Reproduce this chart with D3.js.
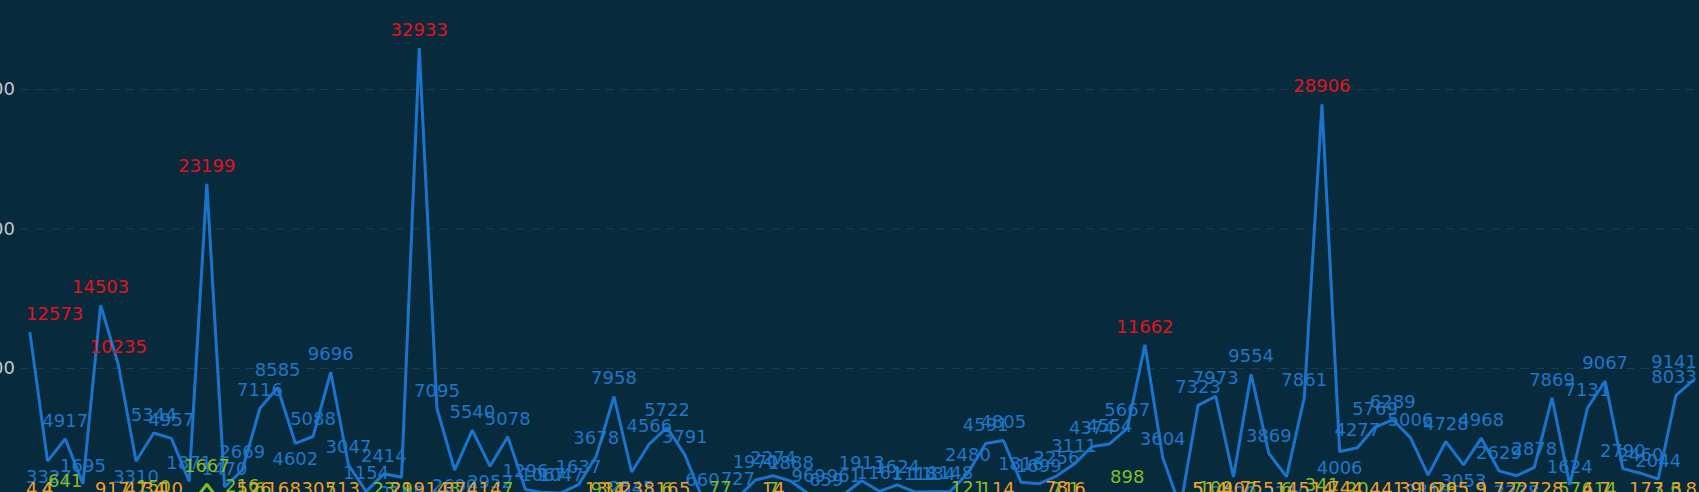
<!DOCTYPE html>
<html>
<head>
<meta charset="utf-8">
<script src="https://cdn.jsdelivr.net/npm/d3@7/dist/d3.min.js"></script>
<style>
  html, body { margin: 0; padding: 0; background: #082a3d; overflow: hidden; }
  svg { display: block; }
  text { font-family: "DejaVu Sans", Verdana, sans-serif; }
</style>
</head>
<body>
<svg id="chart" width="1699" height="492"></svg>
<script>
// ---- data ----
const categories = ["1","2","3","4","5","6","7","8","9","10","11","12","13","14","15","16","17","18","19","20",
  "21","22","23","24","25","26","27","28","29","30","31","32","33","34","35","36","37","38","39","40",
  "41","42","43","44","45","46","47","48","49","50","51","52","53","54","55","56","57","58","59","60",
  "61","62","63","64","65","66","67","68","69","70","71","72","73","74","75","76","77","78","79","80",
  "81","82","83","84","85","86","87","88","89","90","91","92","93","94","95"];

const blueValues = [12573, 3327, 4917, 1695, 14503, 10235, 3310, 5344, 4957, 1871,
  23199, 1470, 2669, 7116, 8585, 4602, 5088, 9696, 3047, 1154,
  2414, 2165, 32933, 7095, 2690, 5540, 2952, 5078, 1296, 1067,
  1047, 1637, 3678, 7958, 2545, 4566, 5722, 3791, 660, 0,
  727, 1970, 2274, 1888, 969, 659, 961, 1913, 1161, 1624,
  1118, 1134, 1148, 2480, 4591, 4805, 1816, 1699, 2256, 3111,
  4374, 4554, 5667, 11662, 3604, 0, 7323, 7973, 2190, 9554,
  3869, 2210, 7861, 28906, 4006, 4277, 5769, 6289, 5006, 2318,
  4728, 3053, 4968, 2629, 2278, 2878, 7869, 1624, 7131, 9067,
  2790, 2460, 2044, 8033, 9141];

const greenValues = [0, 4, 641, 0, 0, 0, 0, 150, 0, 0,
  1667, 0, 216, 6, 0, 0, 0, 7, 0, 0,
  23, 29, 0, 0, 3, 0, 0, 7, 0, 0,
  0, 0, 9, 31, 0, 0, 6, 0, 0, 77,
  0, 0, 7, 0, 0, 0, 0, 0, 0, 0,
  0, 0, 0, 121, 1, 0, 0, 0, 7, 1,
  0, 0, 898, 0, 0, 0, 5, 109, 0, 7,
  0, 6, 0, 341, 0, 20, 0, 0, 0, 0,
  16, 0, 9, 0, 7, 0, 0, 57, 6, 14,
  0, 0, 7, 6, 0];

const orangeValues = [4, 4, 0, 0, 9, 17, 47, 34, 10, 0,
  0, 0, 5, 26, 16, 8, 30, 5, 13, 0,
  0, 21, 9, 14, 37, 4, 14, 0, 0, 0,
  0, 0, 13, 14, 23, 8, 16, 5, 0, 0,
  0, 0, 14, 0, 0, 0, 0, 0, 0, 0,
  0, 0, 0, 0, 0, 14, 0, 0, 78, 16,
  0, 0, 0, 0, 0, 0, 5, 14, 40, 75,
  5, 14, 5, 14, 74, 4, 4, 41, 39, 16,
  29, 5, 9, 7, 22, 7, 28, 0, 4, 7,
  0, 17, 3, 3, 8];

const yTicks = [0, 10000, 20000, 30000];
const highThreshold = 10000;

// ---- layout ----
const W = 1699, H = 492;
const gridLeft = 21;
const step = 17.7;
const svg = d3.select("#chart");
svg.append("rect").attr("width", W).attr("height", H).attr("fill", "#082a3d");

const x = d3.scaleBand()
  .domain(categories)
  .range([gridLeft, gridLeft + step * categories.length])
  .padding(0);
const cx = c => x(c) + x.bandwidth() / 2;

const y = d3.scaleLinear().domain([0, 30000]).range([507.5, 89]);

// grid lines + y axis labels
const yAxis = d3.axisLeft(y).tickValues(yTicks).tickSize(-(W - gridLeft)).tickPadding(6)
  .tickFormat(d3.format("d"));
const gAxis = svg.append("g").attr("transform", `translate(${gridLeft},0)`).call(yAxis);
gAxis.select(".domain").remove();
gAxis.selectAll(".tick line")
  .attr("stroke", "#1f3d51")
  .attr("stroke-width", 1)
  .attr("stroke-dasharray", "8,7");
gAxis.selectAll(".tick text")
  .attr("fill", "#c0c8d0")
  .attr("font-size", 18)
  .attr("font-family", "DejaVu Sans, Verdana, sans-serif");

const line = d3.line().x((d, i) => cx(categories[i])).y(d => y(d));

function drawLine(vals, color, width) {
  svg.append("path")
    .datum(vals)
    .attr("d", line)
    .attr("fill", "none")
    .attr("stroke", color)
    .attr("stroke-width", width)
    .attr("stroke-linejoin", "bevel");
}

drawLine(greenValues, "#86bb24", 3);
drawLine(orangeValues, "#f0a02a", 3);
drawLine(blueValues, "#1b74cb", 3);

const labelLayer = svg.append("g");

function drawLabels(vals, colorFn, opts) {
  vals.forEach((v, i) => {
    if (v === 0) return;
    const px = cx(categories[i]);
    const py = y(v);
    let below = false;
    if (opts.minBelow) {
      const prev = i > 0 ? vals[i - 1] : Infinity;
      const next = i < vals.length - 1 ? vals[i + 1] : Infinity;
      const isMin = v < prev && v < next;
      // local minima get their label under the point, unless the point sits too low
      if (isMin && (py + 22 <= 494 || py < 478.5)) below = true;
    }
    const t = labelLayer.append("text")
      .attr("font-size", 18)
      .attr("fill", colorFn(v))
      .attr("text-anchor", "middle")
      .attr("x", px)
      .attr("y", below ? py + 22 : py - 12)
      .text(v);
    const w = t.node().getComputedTextLength();
    let c = px;
    if (c - w / 2 < 26) c = 26 + w / 2;
    if (c + w / 2 > 1697) c = 1697 - w / 2;
    t.attr("x", c);
  });
}

drawLabels(blueValues, v => v > highThreshold ? "#e0141c" : "#1e77c8", { minBelow: true });
drawLabels(greenValues, () => "#86bb24", {});
drawLabels(orangeValues, () => "#f0a02a", {});
</script>
</body>
</html>
